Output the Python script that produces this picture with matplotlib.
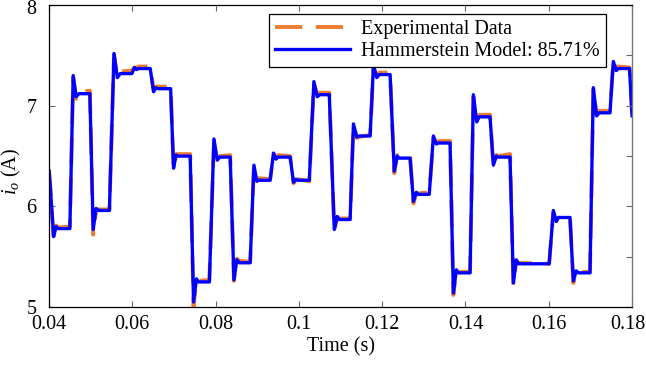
import numpy as np
import matplotlib.pyplot as plt
import matplotlib.transforms as mtransforms

plt.rcParams['font.family'] = 'Liberation Serif'
plt.rcParams['mathtext.fontset'] = 'custom'
plt.rcParams['mathtext.rm'] = 'Liberation Serif'
plt.rcParams['mathtext.it'] = 'Liberation Serif:italic'

# breakpoints of the load current: one row per step
# (end of previous plateau, overshoot, undershoot, new plateau)
t_model = [
    0.0400, 0.0403, 0.0411, 0.0417, 0.0422,
    0.0450, 0.0458, 0.0465, 0.0472,
    0.0498, 0.0506, 0.0513, 0.0519,
    0.0545, 0.0556, 0.0564, 0.0571,
    0.0599, 0.0605, 0.0610, 0.0615,
    0.0643, 0.0651, 0.0657, 0.0662,
    0.0692, 0.0699, 0.0705, 0.0710,
    0.0739, 0.0747, 0.0754, 0.0759,
    0.0785, 0.0796, 0.0804, 0.0810,
    0.0835, 0.0844, 0.0851, 0.0857,
    0.0883, 0.0892, 0.0899, 0.0904,
    0.0931, 0.0939, 0.0945, 0.0950,
    0.0979, 0.0987, 0.0993, 0.0998,
    0.1025, 0.1036, 0.1044, 0.1050,
    0.1073, 0.1085, 0.1092, 0.1097,
    0.1123, 0.1131, 0.1139, 0.1145,
    0.1171, 0.1179, 0.1187, 0.1193,
    0.1219, 0.1229, 0.1236, 0.1241,
    0.1267, 0.1275, 0.1282, 0.1287,
    0.1313, 0.1323, 0.1330, 0.1335,
    0.1363, 0.1371, 0.1378, 0.1383,
    0.1411, 0.1419, 0.1427, 0.1433,
    0.1459, 0.1467, 0.1474, 0.1479,
    0.1507, 0.1515, 0.1522, 0.1527,
    0.1601, 0.1611, 0.1618, 0.1623,
    0.1651, 0.1659, 0.1666, 0.1671,
    0.1699, 0.1707, 0.1715, 0.1721,
    0.1747, 0.1755, 0.1762, 0.1767,
    0.1794, 0.1800,
]

i_model = [
    6.35, 6.20, 5.70, 5.80, 5.78,
    5.78, 7.30, 7.09, 7.12,
    7.12, 5.77, 5.98, 5.96,
    5.96, 7.52, 7.28, 7.32,
    7.32, 7.38, 7.36, 7.37,
    7.37, 7.14, 7.18, 7.17,
    7.17, 6.38, 6.51, 6.50,
    6.50, 5.05, 5.28, 5.25,
    5.25, 6.67, 6.46, 6.49,
    6.49, 5.27, 5.47, 5.44,
    5.44, 6.41, 6.25, 6.26,
    6.26, 6.53, 6.47, 6.49,
    6.49, 6.24, 6.27, 6.26,
    6.26, 7.24, 7.09, 7.11,
    7.11, 5.77, 5.90, 5.87,
    5.87, 6.82, 6.69, 6.70,
    6.70, 7.40, 7.28, 7.31,
    7.31, 6.35, 6.50, 6.48,
    6.48, 6.05, 6.14, 6.12,
    6.12, 6.70, 6.62, 6.63,
    6.63, 5.14, 5.37, 5.34,
    5.34, 7.11, 6.84, 6.89,
    6.89, 6.41, 6.50, 6.49,
    6.49, 5.24, 5.47, 5.43,
    5.43, 5.96, 5.85, 5.89,
    5.89, 5.26, 5.36, 5.34,
    5.34, 7.18, 6.90, 6.93,
    6.93, 7.44, 7.35, 7.37,
    7.37, 6.90,
]

i_exp = [
    6.37, 6.20, 5.66, 5.81, 5.79,
    5.80, 7.28, 7.07, 7.14,
    7.15, 5.72, 5.96, 5.97,
    5.97, 7.50, 7.30, 7.34,
    7.35, 7.38, 7.38, 7.39,
    7.39, 7.16, 7.19, 7.19,
    7.19, 6.37, 6.52, 6.52,
    6.52, 5.00, 5.27, 5.26,
    5.27, 6.65, 6.48, 6.50,
    6.51, 5.26, 5.48, 5.46,
    5.45, 6.40, 6.27, 6.28,
    6.27, 6.52, 6.49, 6.51,
    6.50, 6.23, 6.26, 6.27,
    6.25, 7.22, 7.11, 7.13,
    7.13, 5.76, 5.89, 5.88,
    5.88, 6.80, 6.68, 6.69,
    6.71, 7.38, 7.30, 7.33,
    7.33, 6.33, 6.51, 6.49,
    6.50, 6.03, 6.13, 6.13,
    6.14, 6.68, 6.63, 6.65,
    6.65, 5.12, 5.36, 5.35,
    5.35, 7.09, 6.86, 6.91,
    6.91, 6.39, 6.51, 6.50,
    6.52, 5.22, 5.46, 5.44,
    5.43, 5.94, 5.86, 5.90,
    5.89, 5.24, 5.35, 5.35,
    5.35, 7.16, 6.91, 6.95,
    6.95, 7.45, 7.37, 7.39,
    7.38, 6.92,
]

x_ticks = [0.04, 0.06, 0.08, 0.1, 0.12, 0.14, 0.16, 0.18]
x_labels = ['0.04', '0.06', '0.08', '0.1', '0.12', '0.14', '0.16', '0.18']
y_ticks = [5, 6, 7, 8]

fig = plt.figure(figsize=(6.46, 3.66), dpi=100)
ax = fig.add_axes([0.0759, 0.161, 0.9025, 0.825])

ax.plot(t_model, i_exp, color='#EE7D33', lw=2.8, ls=(0, (7, 3.5)),
        label='Experimental Data')
ax.plot(t_model, i_model, color='#0000FF', lw=2.4,
        label='Hammerstein Model: 85.71%')

ax.set_xlim(0.04, 0.18)
ax.set_ylim(5, 8)
ax.set_xticks(x_ticks)
ax.set_xticklabels(x_labels)
ax.set_yticks(y_ticks)
ax.tick_params(direction='in', length=4, width=0.8, color='0.4',
               labelsize=14.5, top=True)
ax.tick_params(axis='x', pad=6)
ax.tick_params(axis='y', pad=9, right=False)
for s in ax.spines.values():
    s.set_color('0.45')
    s.set_linewidth(0.9)

# keep the last x label inside the figure
last = ax.get_xticklabels()[-1]
last.set_transform(last.get_transform() +
                   mtransforms.ScaledTranslation(-4 / 100, 0, fig.dpi_scale_trans))
first_y = ax.get_yticklabels()[-1]
first_y.set_transform(first_y.get_transform() +
                      mtransforms.ScaledTranslation(0, -2 / 100, fig.dpi_scale_trans))

# right-hand axis carries the finer half-ampere ticks
ax2 = ax.twinx()
ax2.set_ylim(5, 8)
ax2.set_yticks(np.arange(5, 8.01, 0.5))
ax2.set_yticklabels([])
ax2.tick_params(direction='in', length=4, width=0.8, color='0.4')
ax2.spines['right'].set_color('0.45')

ax.set_xlabel('Time (s)', fontsize=14.5, labelpad=2)
ax.set_ylabel(r'$i_o$ (A)', fontsize=14.5)
ax.yaxis.set_label_coords(-0.044, 0.45)

leg = ax.legend(loc='upper right', bbox_to_anchor=(0.955, 0.970),
                borderaxespad=0, fancybox=False, framealpha=1,
                edgecolor='black', fontsize=14.5, handlelength=3.7,
                handletextpad=0.55, borderpad=0.3, labelspacing=0.12)
leg.get_frame().set_linewidth(0.9)
leg.set_zorder(5)

fig.savefig('out.png', dpi=100)
